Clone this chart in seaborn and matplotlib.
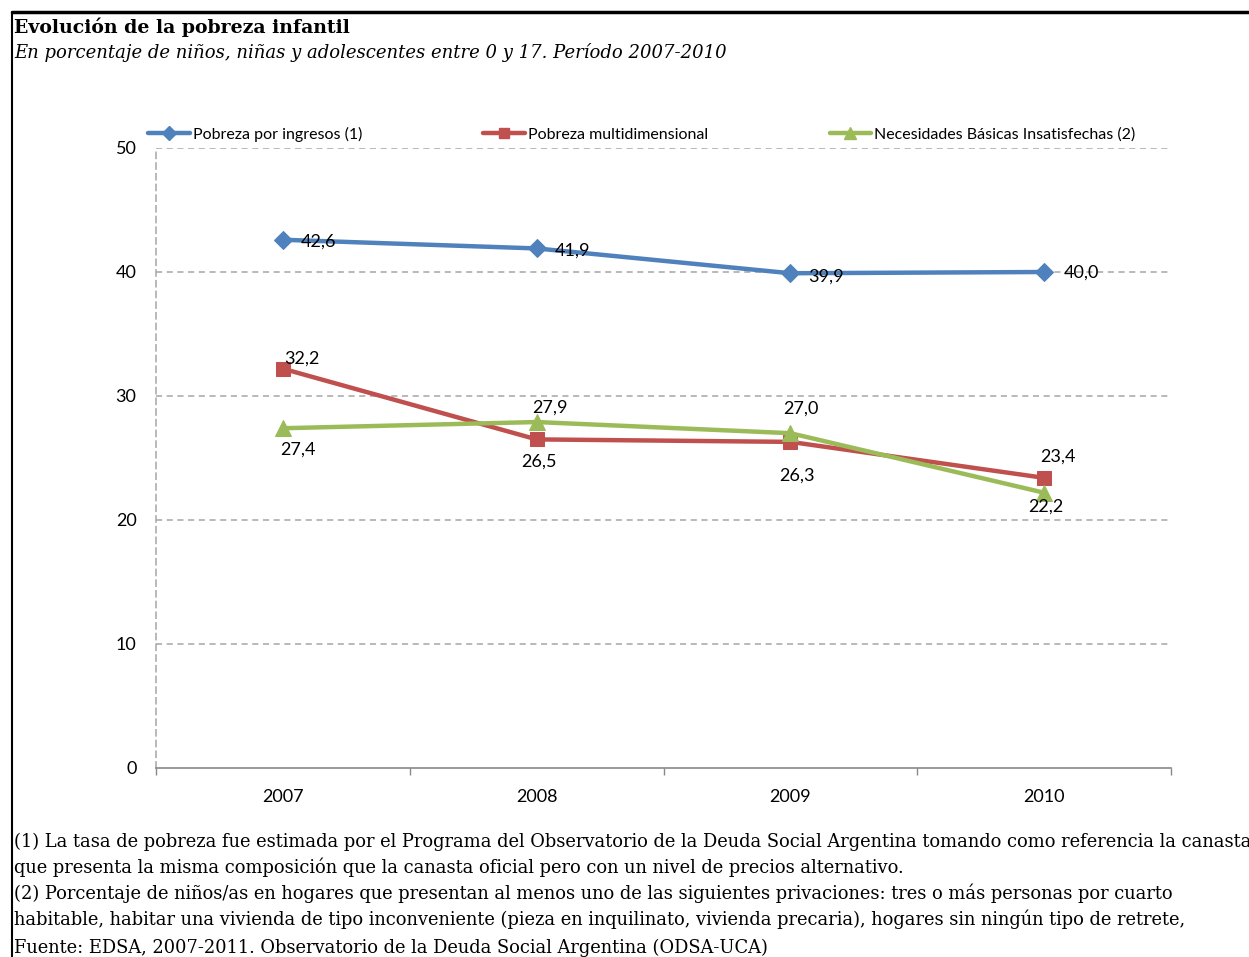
import matplotlib
matplotlib.use("Agg")
import matplotlib.pyplot as plt
import matplotlib.lines as mlines
import seaborn as sns
import pandas as pd

years = ["2007", "2008", "2009", "2010"]
series_names = ["Pobreza por ingresos (1)", "Pobreza multidimensional",
                "Necesidades Básicas Insatisfechas (2)"]
ingresos = [42.6, 41.9, 39.9, 40.0]
multidim = [32.2, 26.5, 26.3, 23.4]
nbi = [27.4, 27.9, 27.0, 22.2]
yticks = [0, 10, 20, 30, 40, 50]

title = "Evolución de la pobreza infantil"
subtitle = "En porcentaje de niños, niñas y adolescentes entre 0 y 17. Período 2007-2010"
notes = [
    "(1) La tasa de pobreza fue estimada por el Programa del Observatorio de la Deuda Social Argentina tomando como referencia la canasta",
    "que presenta la misma composición que la canasta oficial pero con un nivel de precios alternativo.",
    "(2) Porcentaje de niños/as en hogares que presentan al menos uno de las siguientes privaciones: tres o más personas por cuarto",
    "habitable, habitar una vivienda de tipo inconveniente (pieza en inquilinato, vivienda precaria), hogares sin ningún tipo de retrete,",
    "Fuente: EDSA, 2007-2011. Observatorio de la Deuda Social Argentina (ODSA-UCA)",
]

colors = ["#4F81BD", "#C0504D", "#9BBB59"]
markers = ["D", "s", "^"]
msizes = [9, 10, 11]

rows = []
for name, vals in zip(series_names, [ingresos, multidim, nbi]):
    for i, (yr, v) in enumerate(zip(years, vals)):
        rows.append({"serie": name, "pos": i, "year": yr, "valor": v})
df = pd.DataFrame(rows)

sns.set_theme(style="white")
plt.rcParams["font.family"] = ["Lato", "DejaVu Sans"]
plt.rcParams["text.color"] = "black"
plt.rcParams["xtick.color"] = "black"
plt.rcParams["ytick.color"] = "black"
plt.rcParams["axes.labelcolor"] = "black"

fig = plt.figure(figsize=(12.49, 9.57), dpi=100)
ax = fig.add_axes([156/1249, 1-768/957, (1171-156)/1249, (768-148)/957])

for name, c, m, ms in zip(series_names, colors, markers, msizes):
    sub = df[df["serie"] == name]
    sns.lineplot(data=sub, x="pos", y="valor", ax=ax, color=c, marker=m,
                 markersize=ms, markeredgecolor=c, linewidth=3.2, label=name,
                 legend=False)

ax.set_xlim(-0.5, 3.5)
ax.set_ylim(0, 50)
ax.set_yticks(yticks)
ax.set_yticklabels([str(t) for t in yticks], fontsize=13)
ax.set_xticks(range(len(years)))
ax.set_xticklabels(years, fontsize=13)
ax.set_xlabel("")
ax.set_ylabel("")
ax.tick_params(axis="x", length=0, pad=15)
ax.tick_params(axis="y", left=False, length=0, pad=14)
# category boundary ticks
ax.set_xticks([-0.5, 0.5, 1.5, 2.5, 3.5], minor=True)
ax.tick_params(axis="x", which="minor", bottom=True, length=5, color="#888888",
               width=1, direction="out")

for t in [10, 20, 30, 40, 50]:
    ax.axhline(t, color="#A6A6A6", linestyle=(0, (4, 3)), linewidth=1.1, zorder=0)
for s in ["top", "right"]:
    ax.spines[s].set_visible(False)
ax.spines["left"].set_color("#A6A6A6")
ax.spines["left"].set_linestyle((0, (4, 3)))
ax.spines["left"].set_linewidth(1.1)
ax.spines["bottom"].set_color("#888888")
ax.spines["bottom"].set_linewidth(1.2)

# data labels (offsets in pixels)
offsets = [
    [(18, -2, "left"), (18, -2, "left"), (18, -3, "left"), (20, -1, "left")],
    [(19, 10, "center"), (2, -22, "center"), (7, -34, "center"), (14, 21, "center")],
    [(15, -21, "center"), (13, 14, "center"), (11, 25, "center"), (2, -14, "center")],
]
for vals, offs in zip([ingresos, multidim, nbi], offsets):
    for i, (v, (dx, dy, ha)) in enumerate(zip(vals, offs)):
        ax.annotate(f"{v:.1f}".replace(".", ","), (i, v), xytext=(dx, dy),
                    textcoords="offset pixels", ha=ha, va="center", fontsize=13,
                    color="black")

handles = [mlines.Line2D([], [], color=c, marker=m, markersize=ms * 0.75,
                         linewidth=3.2) for c, m, ms in zip(colors, markers, msizes)]
fig.legend(handles, series_names, loc="center left",
           bbox_to_anchor=(148/1249, 1-134/957), ncol=3, frameon=False,
           fontsize=11.5, handlelength=2.6, handletextpad=0.2,
           columnspacing=7.6, borderpad=0, borderaxespad=0)

serif = ["DejaVu Serif"]
fig.text(14/1249, 1-27/957, title, fontsize=13.6, fontweight="bold",
         family=serif, va="center", ha="left")
fig.text(14/1249, 1-52/957, subtitle, fontsize=13, style="italic",
         family=serif, va="center", ha="left")
note_y = [842, 867, 893, 919, 948]
for line, yy in zip(notes, note_y):
    fig.text(14/1249, 1-yy/957, line, fontsize=12.9,
             family=serif, va="center", ha="left")

# frame lines
fig.add_artist(mlines.Line2D([12/1249, 1], [1-12/957, 1-12/957],
                             color="black", linewidth=2.5, transform=fig.transFigure))
fig.add_artist(mlines.Line2D([12/1249, 12/1249], [0, 1-12/957],
                             color="black", linewidth=1.5, transform=fig.transFigure))

fig.savefig("out.png", dpi=100, facecolor="white")
